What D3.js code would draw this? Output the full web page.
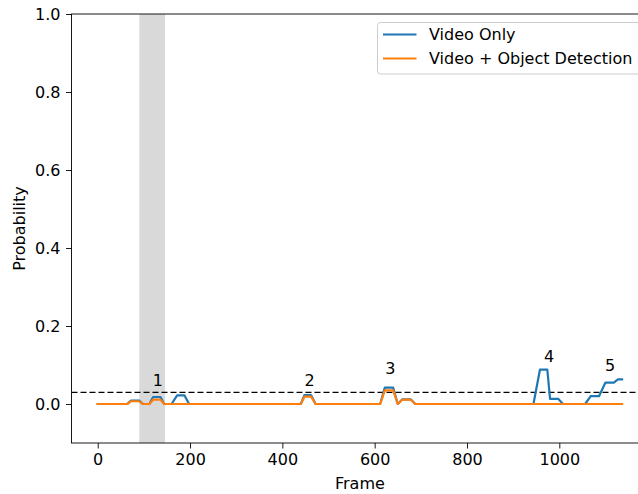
<!DOCTYPE html>
<html>
<head>
<meta charset="utf-8">
<script src="https://cdn.jsdelivr.net/npm/d3@7"></script>
<style>
  html, body { margin: 0; padding: 0; background: #fff; }
  svg { display: block; font-family: "DejaVu Sans", sans-serif; }
</style>
</head>
<body>
<svg id="chart" width="638" height="494"></svg>
<script>
// Frame positions where the probability traces change
const frames = [0, 64, 72, 90, 98, 112, 120, 136, 144, 160, 172, 188, 198,
  440, 448, 462, 472, 612, 622, 640, 650, 660, 678, 688,
  944, 958, 974, 980, 998, 1008, 1056, 1068, 1086, 1100, 1118, 1127, 1136];

const videoOnly = [0, 0, 0.009, 0.009, 0, 0, 0.018, 0.018, 0, 0, 0.022, 0.022, 0,
  0, 0.023, 0.023, 0, 0, 0.042, 0.042, 0, 0.012, 0.012, 0,
  0, 0.088, 0.088, 0.013, 0.013, 0, 0, 0.02, 0.02, 0.055, 0.055, 0.063, 0.063];

const videoObjectDetection = [0, 0, 0.007, 0.007, 0, 0, 0.011, 0.011, 0, 0, 0, 0, 0,
  0, 0.019, 0.019, 0, 0, 0.035, 0.035, 0, 0.011, 0.011, 0,
  0, 0, 0, 0, 0, 0, 0, 0, 0, 0, 0, 0, 0];

const seriesNames = ["Video Only", "Video + Object Detection"];
const seriesColors = ["#1f77b4", "#ff7f0e"];

// Highlighted frame interval
const spanStart = 90;
const spanEnd = 146;

// Decision threshold
const threshold = 0.03;

// Event annotations
const eventLabels = ["1", "2", "3", "4", "5"];
const eventFrames = [130, 459, 634, 978, 1110];
const eventLevels = [0.047, 0.047, 0.078, 0.108, 0.085];

const xTicks = [0, 200, 400, 600, 800, 1000];
const yTicks = [0.0, 0.2, 0.4, 0.6, 0.8, 1.0];

const fontSize = 16;

const svg = d3.select("#chart");
const plotLeft = 71.5, plotRight = 648.3, plotTop = 14, plotBottom = 443;

const x = d3.scaleLinear().domain([-56.8, 1192.8]).range([plotLeft, plotRight]);
const y = d3.scaleLinear().domain([-0.1, 1.0]).range([plotBottom, plotTop]);

svg.append("defs").append("clipPath").attr("id", "plotArea")
  .append("rect").attr("x", plotLeft).attr("y", plotTop)
  .attr("width", plotRight - plotLeft).attr("height", plotBottom - plotTop);

const plot = svg.append("g").attr("clip-path", "url(#plotArea)");

// shaded interval
plot.append("rect")
  .attr("x", x(spanStart)).attr("y", plotTop)
  .attr("width", x(spanEnd) - x(spanStart)).attr("height", plotBottom - plotTop)
  .attr("fill", "#d9d9d9");

// threshold line
plot.append("line")
  .attr("x1", plotLeft).attr("x2", plotRight)
  .attr("y1", y(threshold)).attr("y2", y(threshold))
  .attr("stroke", "#000").attr("stroke-width", 1.2)
  .attr("stroke-dasharray", "6,3");

const line = d3.line().x(d => x(d[0])).y(d => y(d[1]));
[videoOnly, videoObjectDetection].forEach((vals, i) => {
  plot.append("path")
    .datum(frames.map((f, j) => [f, vals[j]]))
    .attr("d", line)
    .attr("fill", "none")
    .attr("stroke", seriesColors[i])
    .attr("stroke-width", 2.2)
    .attr("stroke-linejoin", "round")
    .attr("stroke-linecap", "square");
});

// event numbers
svg.append("g").selectAll("text")
  .data(eventLabels)
  .join("text")
  .attr("x", (d, i) => x(eventFrames[i]))
  .attr("y", (d, i) => y(eventLevels[i]))
  .attr("text-anchor", "middle")
  .attr("font-size", fontSize)
  .attr("fill", "#000")
  .text(d => d);

// axes
const xAxis = d3.axisBottom(x).tickValues(xTicks).tickSize(5.5).tickPadding(5.5)
  .tickFormat(d3.format("d"));
const yAxis = d3.axisLeft(y).tickValues(yTicks).tickSize(5.5).tickPadding(5.5)
  .tickFormat(d3.format(".1f"));

const gx = svg.append("g").attr("transform", `translate(0,${plotBottom})`).call(xAxis);
const gy = svg.append("g").attr("transform", `translate(${plotLeft},0)`).call(yAxis);
[gx, gy].forEach(g => {
  g.select(".domain").remove();
  g.selectAll(".tick line").attr("stroke", "#000").attr("stroke-width", 0.9);
  g.selectAll(".tick text").attr("font-size", fontSize).attr("fill", "#000")
    .attr("font-family", "DejaVu Sans, sans-serif");
});

// spines
svg.append("rect")
  .attr("x", plotLeft).attr("y", plotTop)
  .attr("width", plotRight - plotLeft).attr("height", plotBottom - plotTop)
  .attr("fill", "none").attr("stroke", "#000").attr("stroke-width", 0.9);

// axis titles
svg.append("text")
  .attr("x", (plotLeft + plotRight) / 2).attr("y", 489)
  .attr("text-anchor", "middle").attr("font-size", fontSize)
  .text("Frame");
svg.append("text")
  .attr("transform", `translate(25,${(plotTop + plotBottom) / 2}) rotate(-90)`)
  .attr("text-anchor", "middle").attr("font-size", fontSize)
  .text("Probability");

// legend
const lg = svg.append("g");
lg.append("rect")
  .attr("x", 377.5).attr("y", 22.5).attr("width", 265).attr("height", 51.5)
  .attr("rx", 3).attr("fill", "#fff").attr("fill-opacity", 0.8)
  .attr("stroke", "#cccccc").attr("stroke-width", 1);
seriesNames.forEach((name, i) => {
  const yy = 34.5 + i * 24;
  lg.append("line")
    .attr("x1", 383).attr("x2", 416.5).attr("y1", yy).attr("y2", yy)
    .attr("stroke", seriesColors[i]).attr("stroke-width", 2.2);
  lg.append("text")
    .attr("x", 429).attr("y", yy + 5.5)
    .attr("font-size", fontSize).text(name);
});
</script>
</body>
</html>
